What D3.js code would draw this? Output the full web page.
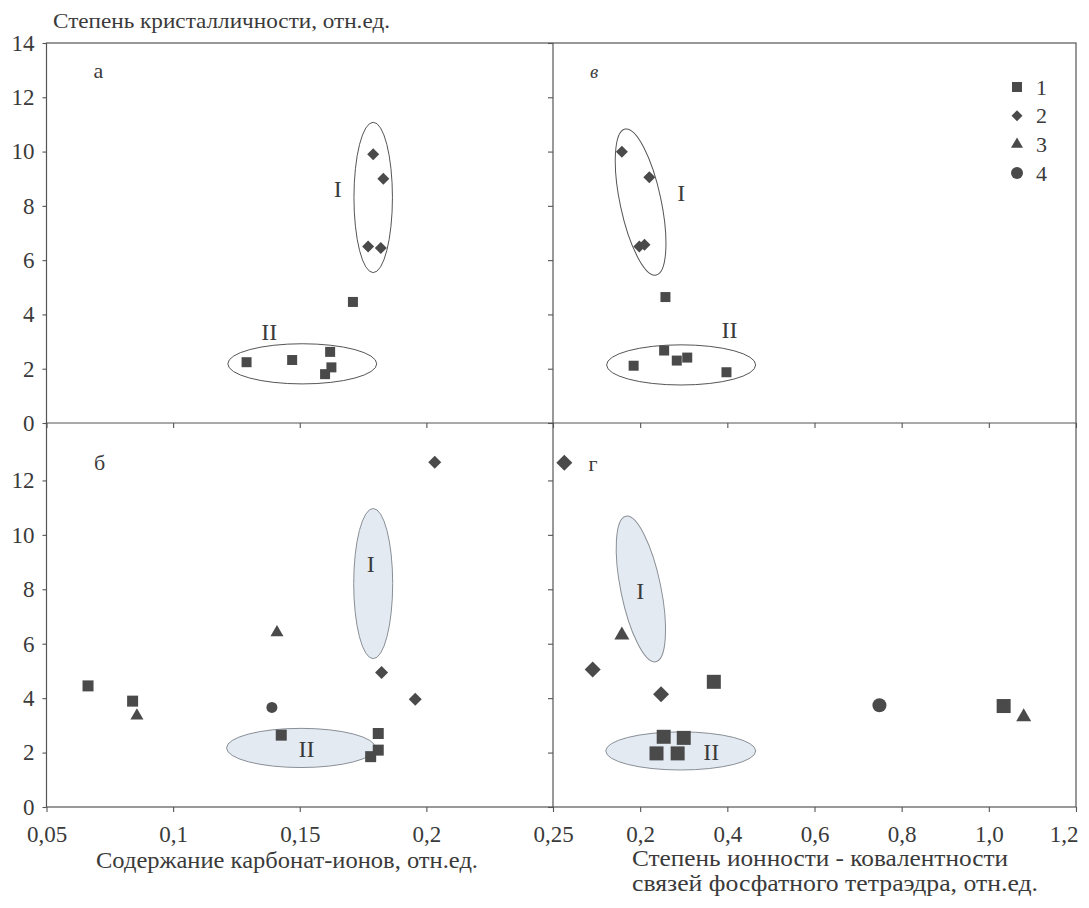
<!DOCTYPE html>
<html>
<head>
<meta charset="utf-8">
<script src="https://cdn.jsdelivr.net/npm/d3@7"></script>
<style>
  html, body { margin: 0; padding: 0; background: #fff; }
</style>
</head>
<body>
<svg id="chart" width="1089" height="908"></svg>
<script>
// ---------------- DATA ----------------
const yTitle = "Степень кристалличности, отн.ед.";
const xTitleLeft = "Содержание карбонат-ионов, отн.ед.";
const xTitleRight = ["Степень ионности - ковалентности", "связей фосфатного тетраэдра, отн.ед."];

const xTicksLeft = [0.05, 0.1, 0.15, 0.2, 0.25];
const xTickLabelsLeft = ["0,05", "0,1", "0,15", "0,2", "0,25"];
const xTicksRight = [0.2, 0.4, 0.6, 0.8, 1.0, 1.2];
const xTickLabelsRight = ["0,2", "0,4", "0,6", "0,8", "1,0", "1,2"];
const yTicksTop = [0, 2, 4, 6, 8, 10, 12, 14];
const yTicksBottom = [0, 2, 4, 6, 8, 10, 12];

const legendLabels = ["1", "2", "3", "4"];
const panelLetters = ["а", "в", "б", "г"];

// panel а (top-left): x = carbonate content, y = crystallinity
const aSquares  = [[0.129, 2.24], [0.147, 2.32], [0.162, 2.62], [0.1625, 2.05], [0.160, 1.80], [0.171, 4.46]];
const aDiamonds = [[0.179, 9.90], [0.183, 9.00], [0.177, 6.50], [0.182, 6.45]];

// panel в (top-right): x = ionicity-covalency
const vSquares  = [[0.185, 2.11], [0.255, 2.67], [0.284, 2.30], [0.308, 2.41], [0.398, 1.87], [0.258, 4.64]];
const vDiamonds = [[0.158, 9.99], [0.221, 9.05], [0.198, 6.50], [0.210, 6.57]];

// panel б (bottom-left)
const bSquares   = [[0.0664, 4.45], [0.084, 3.89], [0.1427, 2.64], [0.181, 2.70], [0.181, 2.09], [0.178, 1.85]];
const bDiamonds  = [[0.2033, 12.67], [0.1823, 4.94], [0.1956, 3.96]];
const bTriangles = [[0.141, 6.41], [0.0857, 3.35]];
const bCircles   = [[0.139, 3.66]];

// panel г (bottom-right)
const gSquares   = [[0.369, 4.60], [1.034, 3.71], [0.254, 2.58], [0.300, 2.54], [0.2375, 1.97], [0.286, 1.97]];
const gDiamonds  = [[0.026, 12.65], [0.091, 5.05], [0.248, 4.14]];
const gTriangles = [[0.158, 6.31], [1.080, 3.31]];
const gCircles   = [[0.749, 3.74]];

// cluster ellipses: [cx, cy, rx (x units), ry (y units), rotation deg]
const aEllipses = [[0.179, 8.31, 0.0076, 2.77, 0], [0.151, 2.18, 0.0294, 0.74, 0]];
const vEllipses = [[0.201, 8.14, 0.047, 2.75, -12], [0.294, 2.14, 0.171, 0.74, 0]];
const bEllipses = [[0.179, 8.21, 0.0077, 2.76, 0], [0.1505, 2.17, 0.0294, 0.72, 0]];
const gEllipses = [[0.2016, 8.01, 0.046, 2.73, -11.6], [0.293, 2.06, 0.172, 0.70, 0]];

// cluster labels: [x, y, text]
const aClusterLabels = [[0.165, 8.65, "I"], [0.138, 3.37, "II"]];
const vClusterLabels = [[0.294, 8.48, "I"], [0.405, 3.43, "II"]];
const bClusterLabels = [[0.178, 8.94, "I"], [0.1527, 2.13, "II"]];
const gClusterLabels = [[0.200, 7.96, "I"], [0.363, 2.03, "II"]];

// ---------------- LAYOUT ----------------
const FONT = "Liberation Serif";
const TXT = "#3a3a3a";
const X0 = 46.5, XM = 553, X1 = 1076;
const YT = 43, YM = 423, YB = 807;
const INK = "#4a4a4a", FRAME = "#555";

const xLeft  = d3.scaleLinear().domain([0.05, 0.25]).range([X0, XM]);
const xRight = d3.scaleLinear().domain([0, 1.2]).range([XM, X1]);
const yTop   = d3.scaleLinear().domain([0, 14]).range([YM, YT]);
const yBot   = d3.scaleLinear().domain([0, 14]).range([YB, 426]);

const svg = d3.select("#chart");

// frame
svg.append("rect").attr("x", X0).attr("y", YT).attr("width", X1 - X0).attr("height", YB - YT)
  .attr("fill", "none").attr("stroke", FRAME).attr("stroke-width", 1.2);
svg.append("line").attr("x1", XM).attr("x2", XM).attr("y1", YT).attr("y2", YB)
  .attr("stroke", FRAME).attr("stroke-width", 1.2);
svg.append("line").attr("x1", X0).attr("x2", X1).attr("y1", YM).attr("y2", YM)
  .attr("stroke", FRAME).attr("stroke-width", 1.2);

function styleAxis(g) {
  g.attr("font-family", FONT).attr("font-size", 23);
  g.select(".domain").remove();
  g.selectAll(".tick line").attr("stroke", FRAME).attr("stroke-width", 1.1);
  g.selectAll(".tick text").attr("fill", TXT).attr("font-family", FONT).attr("font-size", 23);
}

// y axes (left) with labels
svg.append("g").attr("transform", `translate(${X0},0)`)
  .call(d3.axisLeft(yTop).tickValues(yTicksTop).tickFormat(d3.format("d")).tickSize(4).tickPadding(8))
  .call(styleAxis);
svg.append("g").attr("transform", `translate(${X0},0)`)
  .call(d3.axisLeft(yBot).tickValues(yTicksBottom).tickFormat(d3.format("d")).tickSize(4).tickPadding(8))
  .call(styleAxis);
// y ticks on the divider, pointing left, no labels
svg.append("g").attr("transform", `translate(${XM},0)`)
  .call(d3.axisLeft(yTop).tickValues(yTicksTop).tickFormat("").tickSize(5)).call(styleAxis);
svg.append("g").attr("transform", `translate(${XM},0)`)
  .call(d3.axisLeft(yBot).tickValues(yTicksBottom).tickFormat("").tickSize(5)).call(styleAxis);

// x ticks on the middle line (top panels), pointing down, no labels
svg.append("g").attr("transform", `translate(0,${YM})`)
  .call(d3.axisBottom(xLeft).tickValues(xTicksLeft).tickFormat("").tickSize(5)).call(styleAxis);
svg.append("g").attr("transform", `translate(0,${YM})`)
  .call(d3.axisBottom(xRight).tickValues(xTicksRight).tickFormat("").tickSize(5)).call(styleAxis);

// bottom x axes with labels
svg.append("g").attr("transform", `translate(0,${YB})`)
  .call(d3.axisBottom(xLeft).tickValues(xTicksLeft).tickFormat((d, i) => xTickLabelsLeft[i]).tickSize(5).tickPadding(14))
  .call(styleAxis);
const gxr = svg.append("g").attr("transform", `translate(0,${YB})`)
  .call(d3.axisBottom(xRight).tickValues(xTicksRight).tickFormat((d, i) => xTickLabelsRight[i]).tickSize(5).tickPadding(14))
  .call(styleAxis);
gxr.selectAll(".tick text").filter((d, i) => i === xTicksRight.length - 1)
  .attr("text-anchor", "end").attr("dx", 2);

// titles
function title(x, y, size, len, txt) {
  svg.append("text").attr("x", x).attr("y", y)
    .attr("font-family", FONT).attr("font-size", size).attr("fill", TXT)
    .attr("textLength", len).attr("lengthAdjust", "spacingAndGlyphs").text(txt);
}
title(53, 28, 22, 337, yTitle);
title(96, 868, 24, 382, xTitleLeft);
title(632, 866, 24, 376, xTitleRight[0]);
title(632, 891, 24, 406, xTitleRight[1]);

// symbol helpers
const symbolPath = {
  square:   s => d3.symbol(d3.symbolSquare, s * s)(),
  diamond:  s => d3.symbol(d3.symbolSquare, s * s / 2)(),
  triangle: s => d3.symbol(d3.symbolTriangle, s * s * Math.sqrt(3) / 4)(),
  circle:   s => d3.symbol(d3.symbolCircle, Math.PI * s * s / 4)()
};
function drawPoints(g, pts, xs, ys, type, size) {
  g.selectAll(null).data(pts).enter().append("path")
    .attr("d", symbolPath[type](size))
    .attr("transform", d => `translate(${xs(d[0])},${ys(d[1])})` + (type === "diamond" ? " rotate(45)" : ""))
    .attr("fill", INK);
}
function drawEllipses(g, ells, xs, ys, filled) {
  g.selectAll(null).data(ells).enter().append("ellipse")
    .attr("cx", 0).attr("cy", 0)
    .attr("rx", d => Math.abs(xs(d[0] + d[2]) - xs(d[0])))
    .attr("ry", d => Math.abs(ys(d[1] + d[3]) - ys(d[1])))
    .attr("transform", d => `translate(${xs(d[0])},${ys(d[1])}) rotate(${d[4]})`)
    .attr("fill", filled ? "#e4eaf2" : "none")
    .attr("stroke", filled ? "#8a8f96" : "#555")
    .attr("stroke-width", 1);
}
function drawClusterLabels(g, labs, xs, ys) {
  g.selectAll(null).data(labs).enter().append("text")
    .attr("x", d => xs(d[0])).attr("y", d => ys(d[1]))
    .attr("dy", "0.35em").attr("text-anchor", "middle")
    .attr("font-family", FONT).attr("font-size", 24).attr("fill", TXT)
    .text(d => d[2]);
}

// panel а
const pA = svg.append("g");
drawEllipses(pA, aEllipses, xLeft, yTop, false);
drawPoints(pA, aSquares, xLeft, yTop, "square", 10);
drawPoints(pA, aDiamonds, xLeft, yTop, "diamond", 12);
drawClusterLabels(pA, aClusterLabels, xLeft, yTop);

// panel в
const pV = svg.append("g");
drawEllipses(pV, vEllipses, xRight, yTop, false);
drawPoints(pV, vSquares, xRight, yTop, "square", 10);
drawPoints(pV, vDiamonds, xRight, yTop, "diamond", 12);
drawClusterLabels(pV, vClusterLabels, xRight, yTop);

// panel б
const pB = svg.append("g");
drawEllipses(pB, bEllipses, xLeft, yBot, true);
drawPoints(pB, bSquares, xLeft, yBot, "square", 11);
drawPoints(pB, bDiamonds, xLeft, yBot, "diamond", 13);
drawPoints(pB, bTriangles, xLeft, yBot, "triangle", 13);
drawPoints(pB, bCircles, xLeft, yBot, "circle", 11);
drawClusterLabels(pB, bClusterLabels, xLeft, yBot);

// panel г
const pG = svg.append("g");
drawEllipses(pG, gEllipses, xRight, yBot, true);
drawPoints(pG, gSquares, xRight, yBot, "square", 14);
drawPoints(pG, gDiamonds, xRight, yBot, "diamond", 16);
drawPoints(pG, gTriangles, xRight, yBot, "triangle", 15);
drawPoints(pG, gCircles, xRight, yBot, "circle", 14);
drawClusterLabels(pG, gClusterLabels, xRight, yBot);

// panel letters
const letterPos = [[X0 + 52, YT + 35], [XM + 41, YT + 35], [X0 + 53, YM + 47], [XM + 40, YM + 48]];
svg.selectAll(null).data(panelLetters).enter().append("text")
  .attr("x", (d, i) => letterPos[i][0]).attr("y", (d, i) => letterPos[i][1])
  .attr("text-anchor", "middle").attr("font-family", FONT).attr("fill", TXT)
  .attr("font-size", (d, i) => i === 1 ? 19 : 22)
  .attr("font-style", (d, i) => i === 1 ? "italic" : "normal")
  .text(d => d);

// legend
const legendTypes = ["square", "diamond", "triangle", "circle"];
const lg = svg.append("g").attr("transform", "translate(1017,87)");
const rows = lg.selectAll(null).data(legendLabels).enter().append("g")
  .attr("transform", (d, i) => `translate(0,${i * 28.7})`);
rows.append("path")
  .attr("d", (d, i) => symbolPath[legendTypes[i]]([10, 11, 12, 12][i]))
  .attr("transform", (d, i) => i === 1 ? "rotate(45)" : null)
  .attr("fill", INK);
rows.append("text").attr("x", 19).attr("dy", "0.35em")
  .attr("font-family", FONT).attr("font-size", 22).attr("fill", TXT).text(d => d);
</script>
</body>
</html>
